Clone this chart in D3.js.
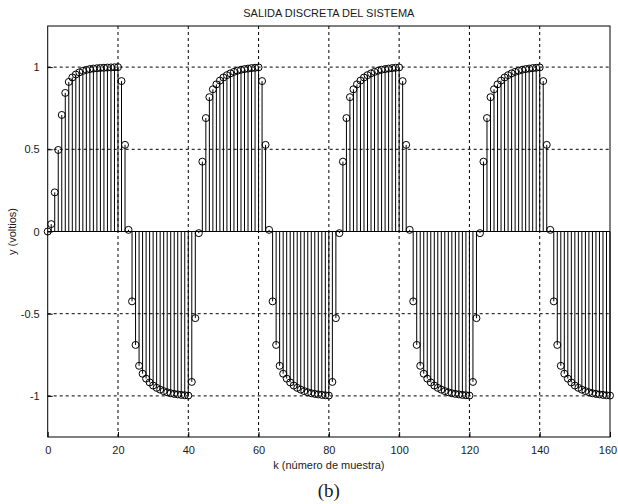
<!DOCTYPE html>
<html>
<head>
<meta charset="utf-8">
<script src="https://cdn.jsdelivr.net/npm/d3@7"></script>
<style>
  html, body { margin: 0; padding: 0; background: #fff; }
  svg { display: block; }
  text { font-family: Arial, "Liberation Sans", sans-serif; fill: #1a1a1a; }
</style>
</head>
<body>
<svg id="chart" width="618" height="504"></svg>
<script>
// Discrete system output y[k], k = 0..160
const samples = [
  // k = 0..20
  0, 0.045, 0.238, 0.496, 0.709, 0.843, 0.91, 0.937, 0.955, 0.968, 0.977,
  0.983, 0.988, 0.991, 0.993, 0.995, 0.996, 0.997, 0.998, 0.999, 1.0,
  // k = 21..40
  0.915, 0.527, 0.01, -0.425, -0.69, -0.817, -0.865, -0.895, -0.918, -0.937,
  -0.951, -0.962, -0.971, -0.978, -0.984, -0.988, -0.991, -0.994, -0.996, -0.998,
  // k = 41..60
  -0.915, -0.527, -0.01, 0.425, 0.69, 0.817, 0.865, 0.895, 0.918, 0.937,
  0.951, 0.962, 0.971, 0.978, 0.984, 0.988, 0.991, 0.994, 0.996, 0.998,
  // k = 61..80
  0.915, 0.527, 0.01, -0.425, -0.69, -0.817, -0.865, -0.895, -0.918, -0.937,
  -0.951, -0.962, -0.971, -0.978, -0.984, -0.988, -0.991, -0.994, -0.996, -0.998,
  // k = 81..100
  -0.915, -0.527, -0.01, 0.425, 0.69, 0.817, 0.865, 0.895, 0.918, 0.937,
  0.951, 0.962, 0.971, 0.978, 0.984, 0.988, 0.991, 0.994, 0.996, 0.998,
  // k = 101..120
  0.915, 0.527, 0.01, -0.425, -0.69, -0.817, -0.865, -0.895, -0.918, -0.937,
  -0.951, -0.962, -0.971, -0.978, -0.984, -0.988, -0.991, -0.994, -0.996, -0.998,
  // k = 121..140
  -0.915, -0.527, -0.01, 0.425, 0.69, 0.817, 0.865, 0.895, 0.918, 0.937,
  0.951, 0.962, 0.971, 0.978, 0.984, 0.988, 0.991, 0.994, 0.996, 0.998,
  // k = 141..160
  0.915, 0.527, 0.01, -0.425, -0.69, -0.817, -0.865, -0.895, -0.918, -0.937,
  -0.951, -0.962, -0.971, -0.978, -0.984, -0.988, -0.991, -0.994, -0.996, -0.998
];
const xTicks = [0, 20, 40, 60, 80, 100, 120, 140, 160];
const yTicks = [-1, -0.5, 0, 0.5, 1];
const yTickLabels = ["-1", "-0.5", "0", "0.5", "1"];
const titleText = "SALIDA DISCRETA DEL SISTEMA";
const xLabelText = "k (número de muestra)";
const yLabelText = "y (voltios)";
const captionText = "(b)";

const data = samples.map((v, k) => ({ k, v }));

const margin = { left: 47.7, right: 8, top: 26, bottom: 67 };
const W = 618, H = 504;
const x = d3.scaleLinear().domain([0, 160]).range([margin.left, W - margin.right]);
const y = d3.scaleLinear().domain([-1.25, 1.25]).range([H - margin.bottom, margin.top]);

const svg = d3.select("#chart");
const x0 = x.range()[0], x1 = x.range()[1];
const y0 = y.range()[0], y1 = y.range()[1];

// dotted grid
const grid = svg.append("g").attr("stroke", "#000").attr("stroke-width", 1)
  .attr("stroke-dasharray", "3,3").attr("fill", "none");
grid.selectAll("line.gx").data(xTicks.slice(1, -1)).join("line")
  .attr("x1", d => x(d)).attr("x2", d => x(d)).attr("y1", y0).attr("y2", y1);
grid.selectAll("line.gy").data(yTicks).join("line")
  .attr("x1", x0).attr("x2", x1).attr("y1", d => y(d)).attr("y2", d => y(d));

// stems
svg.append("g").attr("stroke", "#000").attr("stroke-width", 1)
  .selectAll("line").data(data).join("line")
  .attr("x1", d => x(d.k)).attr("x2", d => x(d.k))
  .attr("y1", y(0)).attr("y2", d => y(d.v));

// baseline
svg.append("line").attr("x1", x0).attr("x2", x1)
  .attr("y1", y(0)).attr("y2", y(0)).attr("stroke", "#000").attr("stroke-width", 1);

// markers
svg.append("g").attr("stroke", "#000").attr("stroke-width", 1).attr("fill", "none")
  .selectAll("circle").data(data).join("circle")
  .attr("cx", d => x(d.k)).attr("cy", d => y(d.v)).attr("r", 3.5);

// axes with inward ticks
const xAxis = d3.axisBottom(x).tickValues(xTicks).tickSize(-5).tickPadding(9).tickFormat(d3.format("d"));
const yAxis = d3.axisLeft(y).tickValues(yTicks).tickSize(-5).tickPadding(8)
  .tickFormat((d, i) => yTickLabels[i]);

const gx = svg.append("g").attr("transform", `translate(0,${y0})`).call(xAxis);
const gy = svg.append("g").attr("transform", `translate(${x0},0)`).call(yAxis);
[gx, gy].forEach(g => {
  g.select(".domain").remove();
  g.selectAll(".tick line").attr("stroke", "#000");
  g.selectAll(".tick text").style("font-size", "11px").style("font-family", "Arial, 'Liberation Sans', sans-serif").attr("fill", "#1a1a1a");
});
// keep the last x label inside the page
gx.selectAll(".tick text").filter(d => d === 160).attr("dx", "-2.5");

// box
svg.append("rect").attr("x", x0).attr("y", y1).attr("width", x1 - x0).attr("height", y0 - y1)
  .attr("fill", "none").attr("stroke", "#000").attr("stroke-width", 1);

// title and labels
const cx = (x0 + x1) / 2;
svg.append("text").attr("x", cx).attr("y", 17).attr("text-anchor", "middle")
  .style("font-size", "11px").text(titleText);
svg.append("text").attr("x", cx).attr("y", 469).attr("text-anchor", "middle")
  .style("font-size", "11px").text(xLabelText);
svg.append("text").attr("transform", `translate(16,${(y0 + y1) / 2}) rotate(-90)`)
  .attr("text-anchor", "middle").style("font-size", "11px").text(yLabelText);
svg.append("text").attr("x", cx).attr("y", 497).attr("text-anchor", "middle")
  .style("font-family", "'Times New Roman', 'Liberation Serif', serif").style("font-size", "19px")
  .attr("fill", "#000").text(captionText);
</script>
</body>
</html>
